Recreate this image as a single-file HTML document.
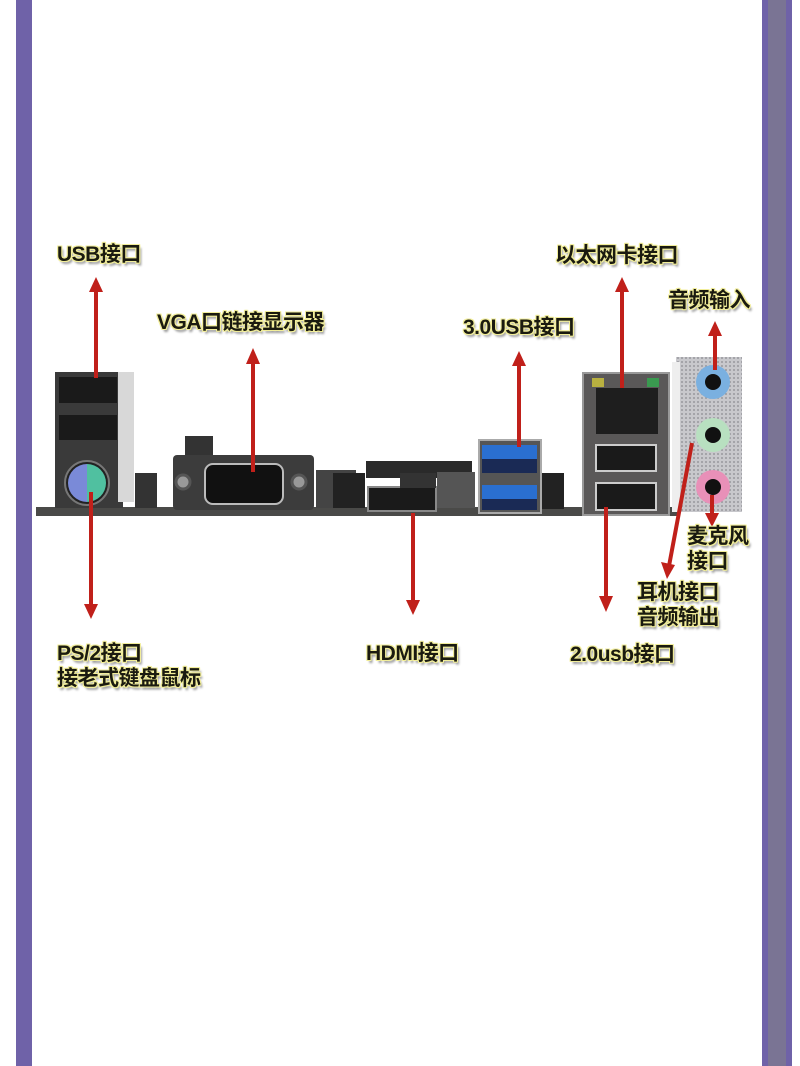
<!DOCTYPE html>
<html><head><meta charset="utf-8">
<style>
html,body{margin:0;padding:0;width:800px;height:1066px;background:#fff;overflow:hidden;position:relative}
.b{position:absolute;top:0;height:1066px}
.t{position:absolute;font-family:"Liberation Sans","Noto Sans CJK SC",sans-serif;font-weight:bold;font-size:21px;letter-spacing:-0.5px;line-height:25px;color:#1a1a10;white-space:nowrap;
text-shadow:1px 1px 0 #f2ee9a,-1px -1px 0 #f2ee9a,1px -1px 0 #f2ee9a,-1px 1px 0 #f2ee9a,0 1px 0 #f2ee9a,0 -1px 0 #f2ee9a,1px 0 0 #f2ee9a,-1px 0 0 #f2ee9a,2px 3px 2px #999}
</style></head><body>
<div class="b" style="left:16px;width:16px;background:#6f62a8"></div>
<div class="b" style="left:762px;width:30px;background:#6f62a8"></div>
<div class="b" style="left:768px;width:18px;background:#7a7494"></div>

<svg width="800" height="1066" style="position:absolute;left:0;top:0">
<defs>
<pattern id="dots" width="4" height="4" patternUnits="userSpaceOnUse"><rect width="4" height="4" fill="#c8c8cc"/><circle cx="2" cy="2" r="0.9" fill="#8a8a90"/></pattern>
</defs>
<rect x="36" y="507" width="644" height="9" fill="#4a4a48"/>
<rect x="55" y="372" width="68" height="136" fill="#3a3a3a"/>
<rect x="118" y="372" width="16" height="130" fill="#d8d8d8"/>
<rect x="59" y="377" width="58" height="26" fill="#1a1a1a"/>
<rect x="59" y="415" width="58" height="25" fill="#1a1a1a"/>
<circle cx="87" cy="483" r="22" fill="#222" stroke="#777" stroke-width="2"/>
<path d="M87 464 A19 19 0 0 0 87 502 Z" fill="#7a8ad8"/>
<path d="M87 464 A19 19 0 0 1 87 502 Z" fill="#50c0a0"/>
<rect x="135" y="473" width="22" height="35" fill="#333"/>
<rect x="185" y="436" width="28" height="20" fill="#333"/>
<rect x="173" y="455" width="141" height="55" rx="4" fill="#3c3c3c"/>
<rect x="205" y="464" width="78" height="40" rx="8" fill="#111" stroke="#bbb" stroke-width="2"/>
<circle cx="183" cy="482" r="7" fill="#999" stroke="#555" stroke-width="3"/>
<circle cx="299" cy="482" r="7" fill="#999" stroke="#555" stroke-width="3"/>
<rect x="316" y="470" width="40" height="38" fill="#444"/>
<rect x="366" y="461" width="106" height="17" fill="#2a2a2a"/>
<rect x="333" y="473" width="32" height="35" fill="#222"/>
<rect x="437" y="472" width="38" height="36" fill="#555"/>
<rect x="368" y="487" width="68" height="24" fill="#1a1a1a" stroke="#888" stroke-width="2"/>
<rect x="400" y="473" width="36" height="15" fill="#333"/>
<rect x="479" y="440" width="62" height="73" fill="#555" stroke="#aaa" stroke-width="2"/>
<rect x="482" y="445" width="55" height="14" fill="#2a6fd0"/>
<rect x="482" y="459" width="55" height="14" fill="#1a2a55"/>
<rect x="482" y="485" width="55" height="14" fill="#2a6fd0"/>
<rect x="482" y="499" width="55" height="11" fill="#1a2a55"/>
<rect x="542" y="473" width="22" height="36" fill="#222"/>
<rect x="583" y="373" width="86" height="142" fill="#5a5858" stroke="#999" stroke-width="2"/>
<rect x="596" y="388" width="62" height="46" fill="#1e1e1e"/>
<rect x="592" y="378" width="12" height="9" fill="#b8b040"/>
<rect x="647" y="378" width="12" height="9" fill="#3a9a50"/>
<rect x="596" y="445" width="60" height="26" fill="#1a1a1a" stroke="#ccc" stroke-width="2"/>
<rect x="596" y="483" width="60" height="27" fill="#1a1a1a" stroke="#ccc" stroke-width="2"/>
<rect x="676" y="357" width="66" height="155" fill="url(#dots)"/>
<rect x="672" y="362" width="8" height="150" fill="#eee"/>
<circle cx="713" cy="382" r="17" fill="#7ab0e0"/><circle cx="713" cy="382" r="8" fill="#111"/>
<circle cx="713" cy="435" r="17" fill="#b8e0c0"/><circle cx="713" cy="435" r="8" fill="#111"/>
<circle cx="713" cy="487" r="17" fill="#e890b8"/><circle cx="713" cy="487" r="8" fill="#111"/>

<g stroke="#c0201a" stroke-width="4" fill="#c0201a">
<line x1="96" y1="378" x2="96" y2="290"/><polygon points="89,292 103,292 96,277" stroke="none"/>
<line x1="253" y1="472" x2="253" y2="362"/><polygon points="246,364 260,364 253,348" stroke="none"/>
<line x1="519" y1="447" x2="519" y2="364"/><polygon points="512,366 526,366 519,351" stroke="none"/>
<line x1="622" y1="388" x2="622" y2="290"/><polygon points="615,292 629,292 622,277" stroke="none"/>
<line x1="715" y1="370" x2="715" y2="334"/><polygon points="708,336 722,336 715,321" stroke="none"/>
<line x1="91" y1="492" x2="91" y2="606"/><polygon points="84,604 98,604 91,619" stroke="none"/>
<line x1="413" y1="513" x2="413" y2="602"/><polygon points="406,600 420,600 413,615" stroke="none"/>
<line x1="606" y1="507" x2="606" y2="598"/><polygon points="599,596 613,596 606,612" stroke="none"/>
<line x1="692" y1="443" x2="669" y2="566"/><polygon points="661,562 675,565 667,579" stroke="none"/>
<line x1="712" y1="495" x2="712" y2="515"/><polygon points="705,513 719,513 712,527" stroke="none"/>
</g>
</svg>

<div class="t" style="left:57px;top:242px">USB接口</div>
<div class="t" style="left:157px;top:310px">VGA口链接显示器</div>
<div class="t" style="left:463px;top:315px">3.0USB接口</div>
<div class="t" style="left:555px;top:243px">以太网卡接口</div>
<div class="t" style="left:668px;top:288px">音频输入</div>
<div class="t" style="left:687px;top:524px">麦克风<br>接口</div>
<div class="t" style="left:637px;top:580px">耳机接口<br>音频输出</div>
<div class="t" style="left:570px;top:642px">2.0usb接口</div>
<div class="t" style="left:366px;top:641px">HDMI接口</div>
<div class="t" style="left:57px;top:641px">PS/2接口<br>接老式键盘鼠标</div>
</body></html>
